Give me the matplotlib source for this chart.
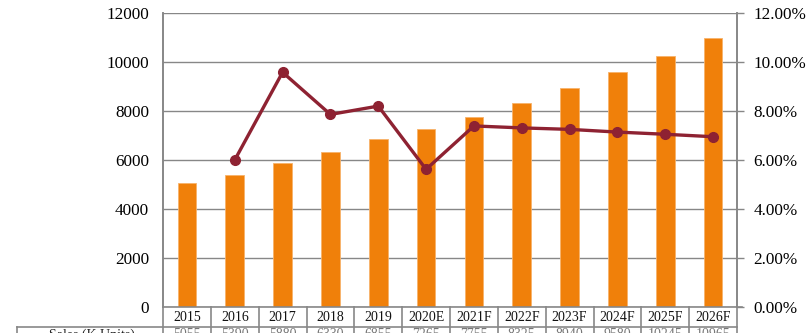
import matplotlib
matplotlib.use("Agg")
import matplotlib.pyplot as plt
import numpy as np

plt.rcParams['font.family'] = ['Liberation Serif', 'DejaVu Serif']

years = ["2015", "2016", "2017", "2018", "2019", "2020E", "2021F", "2022F",
         "2023F", "2024F", "2025F", "2026F"]
sales = [5055, 5390, 5880, 6330, 6855, 7265, 7755, 8325, 8940, 9580, 10245, 10965]
growth = [np.nan, 6.00, 9.58, 7.86, 8.20, 5.62, 7.39, 7.31, 7.25, 7.14, 7.05, 6.95]
row_label = "Sales (K Units)"

W, H = 806, 333
fig = plt.figure(figsize=(W / 100, H / 100), dpi=100)
L, R, T, B = 163, 737, 13, 307
ax = fig.add_axes([L / W, 1 - B / H, (R - L) / W, (B - T) / H])
ax2 = ax.twinx()

x = np.arange(len(years))
grid_c = "#878787"

ax.bar(x, sales, width=0.39, color="#F0800A", edgecolor="#F7B26A", linewidth=0.6, zorder=3)
ax.set_xlim(-0.5, len(years) - 0.5)
ax.set_ylim(0, 12000)
ax.set_yticks(np.arange(0, 12001, 2000))
ax.yaxis.grid(True, color=grid_c, linewidth=1.0, zorder=0)
ax.set_axisbelow(True)
ax.tick_params(axis='y', length=0, pad=10, labelsize=12.3)
ax.set_xticks([])

ax2.plot(x, growth, color="#8E2232", linewidth=2.4, marker='o', markersize=7,
         markerfacecolor="#8E2232", markeredgecolor="#8E2232", zorder=5)
ax2.set_ylim(0, 12)
ax2.set_yticks(np.arange(0, 12.01, 2))
ax2.set_yticklabels([f"{v:.2f}%" for v in np.arange(0, 12.01, 2)])
ax2.tick_params(axis='y', length=5, width=1, color=grid_c, pad=7, labelsize=12.3)

for a in (ax, ax2):
    for s in ("top", "bottom"):
        a.spines[s].set_visible(False)
    a.spines["left"].set_color(grid_c)
    a.spines["right"].set_color(grid_c)
    a.spines["left"].set_linewidth(1.2)
    a.spines["right"].set_linewidth(1.2)
ax2.set_zorder(ax.get_zorder() + 1)
ax2.patch.set_visible(False)

# table drawn in figure pixel coordinates (y from top)
def fy(py):
    return 1 - py / H

def fx(px):
    return px / W

line_kw = dict(color=grid_c, linewidth=1.2, transform=fig.transFigure, clip_on=False)
row1_top, row1_bot, row2_bot = 307, 327, 347
cell_w = (R - L) / len(years)
fig.add_artist(plt.Line2D([fx(L), fx(R + 5)], [fy(row1_top)] * 2, **line_kw))
fig.add_artist(plt.Line2D([fx(17), fx(R)], [fy(row1_bot)] * 2, **line_kw))
for i in range(len(years) + 1):
    px = L + i * cell_w
    fig.add_artist(plt.Line2D([fx(px)] * 2, [fy(row1_top), fy(row2_bot)], **line_kw))
fig.add_artist(plt.Line2D([fx(17)] * 2, [fy(row1_bot), fy(row2_bot)], **line_kw))

for i, lab in enumerate(years):
    cx = L + (i + 0.5) * cell_w
    fig.text(fx(cx), fy((row1_top + row1_bot) / 2 + 0.5), lab, ha='center', va='center',
             fontsize=10, color="#111111")
    fig.text(fx(cx), fy(335), f"{sales[i]}", ha='center', va='center',
             fontsize=10, color="#777777")
fig.text(fx(92), fy(335), row_label, ha='center', va='center', fontsize=10, color="#222222")

fig.savefig("out.png", dpi=100)
